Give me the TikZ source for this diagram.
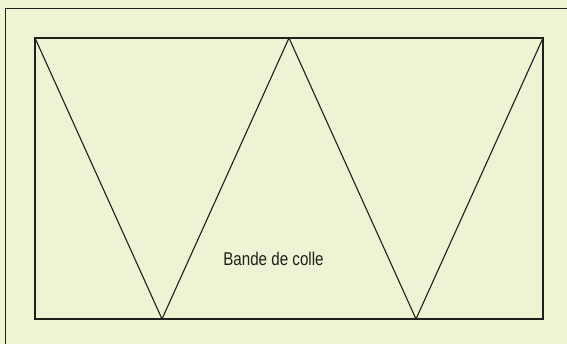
\documentclass[tikz,border=0pt]{standalone}
\usepackage{fontspec}
\setmainfont{Liberation Sans}
\newfontfamily\condfont[FakeStretch=0.82]{Liberation Sans}
\definecolor{bgc}{RGB}{240,242,212}
\definecolor{lnc}{RGB}{30,32,28}
\begin{document}
\begin{tikzpicture}[x=1pt,y=-1pt,
  edge/.style={draw=lnc,line width=1.2pt,line join=miter},
  zig/.style={draw=lnc,line width=1.1pt,line join=miter},
  label/.style={font=\condfont\fontsize{18.5}{20}\selectfont,text=lnc,inner sep=0pt}]
\fill[bgc] (0,0) rectangle (567,344);
\useasboundingbox (0,0) rectangle (567,344);
\draw[lnc,line width=1.8pt] (5.5,344) -- (5.5,8.5) -- (567,8.5);
\coordinate (tl) at (35,38);
\coordinate (tm) at (289,38);
\coordinate (tr) at (543,38);
\coordinate (bl) at (35,319);
\coordinate (br) at (543,319);
\coordinate (b1) at (162,319);
\coordinate (b2) at (416,319);
\draw[edge] (tl) rectangle (br);
\draw[zig] (tl) -- (b1) -- (tm) -- (b2) -- (tr);
\node[label] (txt) at (273.5,259) {Bande de colle};
\end{tikzpicture}
\end{document}
